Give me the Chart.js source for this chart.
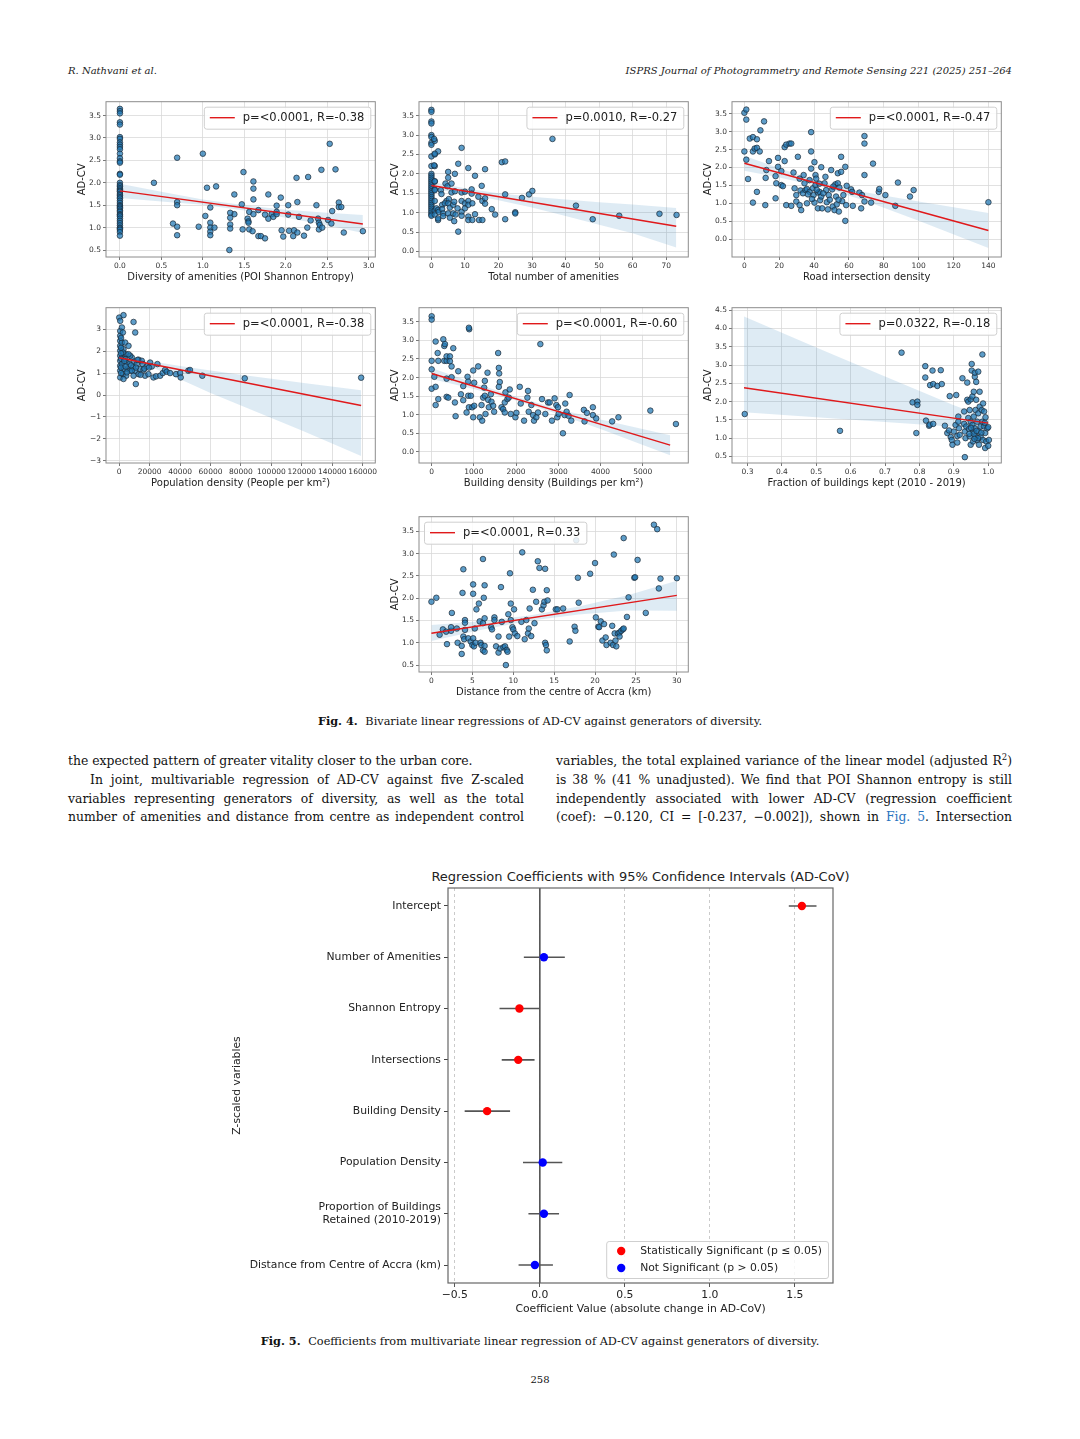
<!DOCTYPE html>
<html>
<head>
<meta charset="utf-8">
<script src="https://cdn.jsdelivr.net/npm/chart.js@4.4.1/dist/chart.umd.min.js"></script>
<style>
  html, body { margin: 0; padding: 0; background: #fff; }
  body { width: 1080px; height: 1439px; position: relative; overflow: hidden; }
  canvas { position: absolute; }
  .hdr { position: absolute; font: italic 10px 'DejaVu Serif', serif; color: #222; line-height: 12px; white-space: nowrap; }
  .cap { position: absolute; left: 0; width: 1080px; text-align: center; font: 11.3px 'DejaVu Serif', serif; color: #111; line-height: 16px; }
  .cap b { margin-right: 4px; }
  .col { position: absolute; width: 456px; font: 12.4px 'DejaVu Serif', serif; color: #111; }
  .col div { height: 18.8px; line-height: 18.8px; text-align: justify; text-align-last: justify; }
  .col div.last { text-align-last: left; }
  .col .ind { text-indent: 22px; }
  .lnk { color: #2a74c0; }
  sup { font-size: 8.5px; line-height: 0; }
  .ctitle { position: absolute; left: 290px; width: 701px; text-align: center; font: 13px 'DejaVu Sans', sans-serif; color: #222; line-height: 16px; white-space: nowrap; }
</style>
</head>
<body>

<div class="hdr" style="left:68px; top:65px;">R. Nathvani et al.</div>
<div class="hdr" style="right:68px; top:65px;">ISPRS Journal of Photogrammetry and Remote Sensing 221 (2025) 251–264</div>

<canvas id="p1"></canvas>
<canvas id="p2"></canvas>
<canvas id="p3"></canvas>
<canvas id="p4"></canvas>
<canvas id="p5"></canvas>
<canvas id="p6"></canvas>
<canvas id="p7"></canvas>

<div class="cap" style="top:713px;"><b>Fig. 4.</b> Bivariate linear regressions of AD-CV against generators of diversity.</div>

<div class="col" style="left:68px; top:752px;">
  <div class="last">the expected pattern of greater vitality closer to the urban core.</div>
  <div class="ind">In joint, multivariable regression of AD-CV against five Z-scaled</div>
  <div>variables representing generators of diversity, as well as the total</div>
  <div>number of amenities and distance from centre as independent control</div>
</div>
<div class="col" style="left:556px; top:752px;">
  <div>variables, the total explained variance of the linear model (adjusted R<sup>2</sup>)</div>
  <div>is 38 % (41 % unadjusted). We find that POI Shannon entropy is still</div>
  <div>independently associated with lower AD-CV (regression coefficient</div>
  <div>(coef): −0.120, CI = [-0.237, −0.002]), shown in <span class="lnk">Fig. 5</span>. Intersection</div>
</div>

<div class="ctitle" style="top:869px;">Regression Coefficients with 95% Confidence Intervals (AD-CoV)</div>
<canvas id="coef"></canvas>

<div class="cap" style="top:1333px;"><b>Fig. 5.</b> Coefficients from multivariate linear regression of AD-CV against generators of diversity.</div>
<div class="cap" style="top:1372px; font-size:10px;">258</div>

<script>
// ---------- Fig. 4 data ----------

// panel 1: POI Shannon entropy
const entropyPts = [
  [0,3.65],[0,3.6],[0,3.55],[0,3.35],[0,3.3],[0,3.02],[0,2.98],[0,2.9],[0,2.85],[0,2.8],[0,2.75],[0,2.65],
  [0,2.55],[0,2.48],[0,2.45],[0,2.2],[0,2.18],[0,2.0],[0,1.95],[0,1.92],[0,1.88],[0,1.85],[0,1.82],[0,1.8],
  [0,1.75],[0,1.72],[0,1.68],[0,1.65],[0,1.6],[0,1.55],[0,1.5],[0,1.48],[0,1.45],[0,1.42],[0,1.38],[0,1.35],
  [0,1.3],[0,1.28],[0,1.25],[0,1.2],[0,1.15],[0,1.1],[0,1.05],[0,1.0],[0,0.98],[0,0.95],[0,0.9],[0,0.82],
  [0.41,2.0],[0.69,2.56],[0.69,1.57],[0.69,1.5],[0.64,1.09],[0.69,1.02],[0.69,0.83],[1.0,2.65],[1.05,1.89],
  [1.16,1.92],[1.03,1.26],[1.09,1.45],[1.09,1.11],[1.09,1.0],[1.09,0.91],[1.09,0.83],[1.14,1.0],[0.95,1.02],
  [1.38,1.74],[1.38,1.3],[1.33,1.33],[1.33,1.22],[1.33,1.07],[1.33,0.98],[1.32,0.5],[1.49,2.24],[1.47,1.52],
  [1.48,0.96],[1.54,1.2],[1.55,1.14],[1.55,1.11],[1.56,1.35],[1.56,0.96],[1.61,2.03],[1.61,1.87],[1.61,1.63],
  [1.61,1.3],[1.6,0.92],[1.67,1.39],[1.67,0.81],[1.7,0.81],[1.75,0.76],[1.79,1.74],[1.79,1.2],[1.75,1.29],
  [1.83,1.3],[1.85,1.24],[1.89,1.49],[1.89,1.35],[1.89,1.3],[1.94,1.67],[1.95,0.94],[1.97,0.8],[2.03,1.5],
  [2.03,1.29],[2.04,0.93],[2.1,0.94],[2.09,0.81],[2.13,2.11],[2.14,1.57],[2.14,0.89],[2.16,1.24],[2.27,2.13],
  [2.3,1.16],[2.22,0.82],[2.26,1.0],[2.37,1.5],[2.39,1.2],[2.4,1.11],[2.4,0.96],[2.41,1.06],[2.44,1.0],
  [2.43,2.29],[2.53,2.87],[2.6,2.3],[2.51,1.17],[2.56,1.37],[2.55,1.09],[2.64,1.56],[2.64,1.46],[2.67,1.46],
  [2.7,0.89],[2.93,0.92]
];
const entropyFit = [[0,1.82],[2.93,1.08]];
const entropyBandX = [0, 0.5, 1.0, 1.5, 2.0, 2.5, 2.93];
const entropyBandHi = [1.98, 1.80, 1.63, 1.50, 1.40, 1.33, 1.28];
const entropyBandLo = [1.66, 1.58, 1.51, 1.38, 1.22, 1.05, 0.88];
const entropyTicksX = [0, 0.5, 1.0, 1.5, 2.0, 2.5, 3.0];
const entropyTicksY = [0.5, 1.0, 1.5, 2.0, 2.5, 3.0, 3.5];

// panel 2: total number of amenities
const amenityPts = [
  [0,3.65],[0,3.6],[0,3.35],[0,3.3],[0,3.0],[0,2.95],[0,2.8],[0,2.75],[0,2.45],[0,2.2],[0,2.0],[0,1.95],
  [0,1.9],[0,1.85],[0,1.8],[0,1.75],[0,1.7],[0,1.65],[0,1.6],[0,1.55],[0,1.5],[0,1.45],[0,1.4],[0,1.35],
  [0,1.3],[0,1.25],[0,1.2],[0,1.15],[0,1.1],[0,1.05],[0,1.0],[0,0.95],[0,0.92],
  [1,2.85],[1,2.5],[1,2.2],[1,1.8],[1,1.6],[1,1.3],[1,1.05],[1,0.95],[0.8,2.9],
  [2.0,2.58],[1.0,2.52],[0.8,2.22],[1.0,1.81],[1.0,1.58],[2.8,1.58],[1.5,1.11],[2.0,1.07],[2.2,1.02],
  [2.0,0.81],[2.0,0.85],[3.0,1.48],[3.2,1.2],[3.2,1.09],[3.5,0.98],[3.5,0.91],[4.2,1.75],[4.8,1.68],
  [4.5,1.3],[4.0,1.24],[5.0,2.05],[5.0,1.9],[5.2,1.35],[5.0,1.24],[5.5,1.13],[5.0,0.98],[5.5,0.87],
  [6.0,1.75],[6.0,1.52],[6.5,1.2],[6.5,0.98],[7.0,2.0],[7.0,1.55],[6.8,1.28],[6.8,0.78],[7.2,0.95],
  [8.0,2.26],[8.0,0.51],[7.8,1.11],[9.0,2.67],[9.0,1.52],[9.0,1.3],[9.0,1.02],[9.0,0.92],[10.0,1.54],
  [10.0,1.24],[10.0,1.11],[11.0,2.15],[11.0,1.3],[11.0,1.2],[11.0,0.9],[11.0,0.81],[12.0,1.6],[12.0,1.49],
  [12.2,1.24],[12.2,0.81],[13.0,1.95],[13.0,0.96],[14.0,1.41],[14.2,0.81],[15.0,1.69],[15.2,1.3],[15.2,0.81],
  [16.0,2.12],[16.0,1.37],[16.0,1.23],[18.0,1.09],[19.0,0.95],[21.0,2.3],[22.0,2.32],[22.0,1.47],[22.0,0.83],
  [25.0,1.01],[25.0,0.98],[27.0,1.38],[29.1,1.47],[30.1,1.56],[36.1,2.9],[43.1,1.18],[48.1,0.83],[56.0,0.92],
  [68.0,0.97],[73.1,0.94]
];
const amenityFit = [[0,1.70],[73,0.65]];
const amenityBandX = [0, 10, 20, 30, 40, 50, 60, 73];
const amenityBandHi = [1.79, 1.63, 1.50, 1.41, 1.34, 1.27, 1.21, 1.12];
const amenityBandLo = [1.61, 1.49, 1.32, 1.13, 0.91, 0.69, 0.47, 0.10];
const amenityTicksX = [0, 10, 20, 30, 40, 50, 60, 70];
const amenityTicksY = [0.0, 0.5, 1.0, 1.5, 2.0, 2.5, 3.0, 3.5];

// panel 3: road intersection density
const intersectPts = [
  [0,3.53],[1.1,3.62],[1.1,3.34],[0,2.45],[1.1,2.22],[2.1,1.68],[3.1,2.81],[4.9,2.85],[4.9,2.45],[5.9,2.53],
  [7.2,2.55],[7.2,2.79],[8.8,2.45],[9.2,3.04],[11.3,3.29],[4.9,1.02],[7.2,1.32],[12,0.95],[14.1,2.18],
  [12.6,1.93],[12.2,1.71],[17.9,1.76],[18.3,1.56],[17.9,1.14],[19.3,2.27],[19.3,2.02],[21.2,1.51],[22.1,1.48],
  [21.2,1.9],[23.1,2.57],[24,2.64],[25.9,2.67],[26.9,2.67],[23.1,2.18],[24,0.95],[26.9,0.93],[28.2,1.86],
  [28.8,1.42],[29.8,1.23],[29.8,1.05],[30.7,2.3],[31.7,1.69],[31.7,0.95],[32.6,0.81],[32.2,1.36],[33.6,1.28],
  [34,1.79],[34.5,1.56],[35.1,1.37],[35.9,1.4],[35.9,1.0],[37.4,1.65],[37.4,1.32],[38.3,2.99],[38.3,2.45],
  [38.3,1.97],[39.3,1.42],[39.7,1.23],[40.2,2.15],[40.8,1.79],[40.8,1.51],[40.2,1.02],[41.2,1.69],[42.2,1.3],
  [42.2,0.86],[43.1,1.32],[43.5,1.09],[44.1,2.01],[44.1,1.19],[44.6,0.86],[46,1.56],[46.5,1.74],[46.9,1.37],
  [47.3,1.03],[47.9,0.83],[48.4,1.23],[49.8,1.93],[50.4,1.39],[50.7,0.91],[51.7,0.81],[52.2,1.53],[52.6,1.19],
  [53,0.97],[53.6,1.84],[53.6,1.56],[54.2,0.77],[54.5,1.44],[55.5,2.3],[55.5,1.88],[56.1,1.06],[56.8,1.23],
  [57.9,2.02],[57.9,0.51],[58.4,0.95],[58.7,1.49],[61.2,1.39],[61.8,1.32],[62.2,0.93],[66,1.3],[67,0.86],
  [67.5,1.23],[68.9,2.88],[68.9,2.67],[68.9,1.79],[68.9,1.05],[72.7,1.02],[73.8,2.11],[77.1,1.32],[77.4,1.4],
  [80.9,1.23],[86.6,0.93],[88.1,1.58],[95,1.19],[97.1,1.37],[140,1.03],
  [36.5,1.25],[38.8,1.12],[45.2,1.28],[49,1.1],[51,1.47],[54,1.1],[41.5,1.38],[43,1.55]
];
const intersectFit = [[0,2.12],[140,0.24]];
const intersectBandX = [0, 20, 45, 70, 100, 140];
const intersectBandHi = [2.33, 1.98, 1.59, 1.30, 1.05, 0.73];
const intersectBandLo = [1.91, 1.72, 1.45, 1.06, 0.51, -0.25];
const intersectTicksX = [0, 20, 40, 60, 80, 100, 120, 140];
const intersectTicksY = [0.0, 0.5, 1.0, 1.5, 2.0, 2.5, 3.0, 3.5];

// panel 4: population density
const popPts = [
  [0,3.53],[2800,3.64],[650,3.38],[650,2.92],[650,2.7],[650,2.47],[650,2.24],[650,2.02],[650,1.79],[650,1.56],
  [650,1.33],[650,1.11],[650,0.8],[1750,3.08],[2400,2.85],[1750,2.39],[2800,2.09],[2800,1.71],[1750,1.41],
  [3300,1.18],[2400,0.95],[3900,2.39],[4600,1.86],[5000,1.48],[5500,1.18],[4600,0.88],[6100,2.24],[6800,1.41],
  [7200,1.11],[9400,3.33],[10500,2.85],[10900,0.5],[8300,1.71],[9000,1.26],[9800,1.52],[10500,1.11],
  [11600,1.41],[12700,0.95],[13800,1.18],[12700,1.61],[14800,1.56],[15500,1.41],[15900,1.15],[17000,0.88],
  [19200,0.95],[20300,1.48],[21400,1.3],[22500,0.8],[24200,0.85],[25100,1.41],[26900,0.88],[28600,1.0],
  [30100,1.14],[31200,1.06],[33400,1.0],[37300,0.95],[40000,1.0],[40400,0.8],[45400,1.11],[46500,1.14],
  [54600,0.88],[82500,0.76],[159000,0.79],
  [2400,1.94],[3900,1.64],[7200,1.79],[6100,1.86],[8300,1.11],[5000,1.03],[9400,0.88],[2800,0.73],
  [1200,2.6],[1200,2.15],[1200,1.9],[1200,1.65],[1200,1.25],[1200,1.0],[3300,1.55],[4200,1.3],[7800,1.35],
  [11000,1.25],[14000,0.92],[18000,1.3],[16500,1.2],[12000,1.6],[19500,1.25]
];
const popFit = [[0,1.70],[159000,-0.48]];
const popBandX = [0, 20000, 40000, 60000, 80000, 100000, 120000, 159000];
const popBandHi = [1.82, 1.55, 1.32, 1.12, 0.92, 0.74, 0.56, 0.22];
const popBandLo = [1.58, 1.30, 0.72, 0.09, -0.48, -1.05, -1.62, -2.78];
const popTicksX = [0, 20000, 40000, 60000, 80000, 100000, 120000, 140000, 160000];
const popTicksY = [-3, -2, -1, 0, 1, 2, 3];

// panel 5: building density
const buildPts = [
  [0,3.65],[0,3.56],[0,2.45],[0,2.22],[0,1.7],[63,2.02],[94,1.75],[94,1.26],[94,2.97],[157,2.45],[142,2.66],
  [157,1.42],[299,2.45],[276,3.03],[299,2.85],[315,2.9],[354,2.45],[354,1.97],[354,1.48],[394,1.46],[354,2.57],
  [433,2.57],[433,2.44],[472,2.01],[512,2.79],[472,2.3],[551,1.33],[567,0.96],[630,2.17],[693,1.55],[748,1.77],
  [748,1.39],[827,1.06],[850,2.02],[866,1.89],[866,1.51],[882,1.2],[890,3.3],[882,3.34],[929,1.51],[961,1.2],
  [984,2.19],[984,0.93],[1008,1.86],[1008,1.24],[1102,2.3],[1142,0.93],[1181,1.26],[1197,0.84],[1220,1.46],
  [1244,1.73],[1260,1.91],[1260,1.51],[1276,1.02],[1323,2.13],[1339,1.4],[1354,1.2],[1402,1.55],[1417,1.35],
  [1457,1.24],[1480,1.08],[1575,2.66],[1591,2.26],[1599,2.11],[1614,1.88],[1591,1.75],[1654,1.2],[1693,1.15],
  [1732,1.33],[1732,1.06],[1748,1.6],[1795,1.42],[1850,1.68],[1874,1.02],[1827,1.46],[1984,0.93],[2008,1.05],
  [2087,1.75],[2110,1.3],[2189,0.84],[2268,1.46],[2283,1.64],[2299,1.08],[2362,1.26],[2402,0.99],[2425,0.84],
  [2480,0.93],[2520,1.06],[2575,2.9],[2614,1.42],[2693,1.02],[2756,1.33],[2795,1.33],[2850,0.84],[2913,1.44],
  [2953,1.26],[2992,1.2],[2976,0.93],[3008,1.02],[3110,0.5],[3150,0.99],[3165,1.3],[3197,1.08],[3268,1.53],
  [3307,0.84],[3244,0.97],[3606,1.13],[3622,0.82],[3677,1.05],[3819,1.2],[3819,0.99],[3898,0.9],[4276,0.82],
  [4425,0.93],[5181,1.11],[5787,0.75]
];
const buildFit = [[0,2.11],[5650,0.18]];
const buildBandX = [0, 1000, 2000, 3000, 4000, 5650];
const buildBandHi = [2.26, 1.85, 1.48, 1.155, 0.874, 0.45];
const buildBandLo = [1.96, 1.69, 1.38, 1.015, 0.614, -0.09];
const buildTicksX = [0, 1000, 2000, 3000, 4000, 5000];
const buildTicksY = [0.0, 0.5, 1.0, 1.5, 2.0, 2.5, 3.0, 3.5];

// panel 6: fraction of buildings kept
const keptPts = [
  [0.292,1.66],[0.569,1.2],[0.748,3.34],[0.78,1.98],[0.794,2.0],[0.794,1.91],[0.791,1.14],[0.817,2.97],
  [0.817,2.66],[0.819,1.48],[0.828,1.34],[0.831,2.45],[0.83,1.37],[0.84,1.39],[0.838,2.85],[0.84,2.48],
  [0.852,2.43],[0.865,2.48],[0.862,2.86],[0.874,1.34],[0.881,1.14],[0.886,1.21],[0.888,2.15],[0.891,1.03],
  [0.894,0.95],[0.896,0.82],[0.9,1.18],[0.905,1.36],[0.907,2.18],[0.91,0.88],[0.91,1.06],[0.913,1.59],
  [0.913,1.45],[0.915,1.27],[0.917,1.09],[0.925,2.64],[0.93,1.73],[0.93,1.39],[0.932,1.18],[0.932,0.48],
  [0.934,1.0],[0.936,1.32],[0.939,2.52],[0.939,2.05],[0.942,2.0],[0.942,1.55],[0.944,1.25],[0.946,1.77],
  [0.946,1.05],[0.949,2.06],[0.949,1.45],[0.949,0.82],[0.952,2.85],[0.952,3.03],[0.954,2.14],[0.954,1.36],
  [0.956,1.18],[0.956,0.91],[0.958,2.27],[0.958,1.59],[0.961,2.68],[0.961,2.79],[0.961,1.27],[0.963,1.77],
  [0.963,1.05],[0.965,2.54],[0.965,2.05],[0.968,1.45],[0.968,0.95],[0.971,2.82],[0.971,1.68],[0.973,1.18],
  [0.973,0.82],[0.975,2.27],[0.975,1.86],[0.978,1.32],[0.978,1.03],[0.981,1.77],[0.983,3.29],[0.983,1.45],
  [0.985,1.95],[0.985,0.95],[0.988,1.73],[0.988,1.32],[0.991,1.14],[0.991,0.73],[0.992,1.57],[0.994,0.91],
  [0.997,1.27],[1.0,1.3],[1.0,0.79],[1.002,0.95],
  [0.958,1.12],[0.966,1.2],[0.97,1.0],[0.98,1.15],[0.95,1.28],[0.945,1.12],[0.99,1.42],[0.96,0.98]
];
const keptFit = [[0.29,2.38],[1.0,1.41]];
const keptBandX = [0.29, 0.5, 0.7, 0.9, 1.0];
const keptBandHi = [4.33, 3.48, 2.69, 1.90, 1.55];
const keptBandLo = [1.71, 1.57, 1.44, 1.31, 1.27];
const keptTicksX = [0.3, 0.4, 0.5, 0.6, 0.7, 0.8, 0.9, 1.0];
const keptTicksY = [0.5, 1.0, 1.5, 2.0, 2.5, 3.0, 3.5, 4.0, 4.5];

// panel 7: distance from the centre of Accra
const distPts = [
  [0,1.92],[0.6,2.01],[1.0,1.18],[1.4,1.3],[1.8,1.25],[1.9,0.97],[2.4,1.27],[2.5,1.67],[2.4,1.35],[3.1,1.32],
  [3.2,1.0],[3.7,0.75],[3.7,0.93],[3.8,2.12],[3.9,2.65],[3.9,1.14],[4.0,1.08],[4.1,1.51],[4.1,1.45],[4.1,1.29],
  [4.5,1.1],[4.8,1.03],[5.0,0.95],[5.1,2.31],[5.1,2.1],[5.1,1.1],[5.2,0.92],[5.3,1.32],[5.4,1.0],[5.5,1.75],
  [5.8,1.88],[5.9,1.48],[6.0,1.0],[6.1,0.95],[6.3,2.88],[6.3,1.44],[6.3,0.83],[6.5,0.8],[6.4,2.01],[6.5,2.29],
  [6.5,1.55],[6.5,0.93],[7.3,1.35],[7.4,1.3],[7.7,1.57],[7.7,1.51],[7.9,0.92],[8.2,0.78],[8.2,1.14],[8.4,0.87],
  [8.5,2.25],[8.6,1.47],[8.8,0.9],[9.0,0.92],[9.1,0.5],[9.2,0.84],[9.3,0.8],[9.4,1.64],[9.5,1.14],[9.6,2.56],
  [9.7,1.88],[9.7,1.51],[9.9,1.35],[10.0,1.3],[10.1,1.75],[10.2,1.21],[10.5,1.15],[11.0,1.47],[11.1,3.03],
  [11.4,1.08],[11.6,1.51],[11.8,1.21],[11.9,1.32],[12.0,1.77],[12.2,1.15],[12.4,2.19],[12.6,1.44],[12.8,1.92],
  [13.0,2.83],[13.2,2.68],[13.5,1.75],[13.7,1.84],[13.8,1.92],[13.9,1.0],[13.9,2.66],[14.0,0.95],[14.1,0.83],
  [14.1,2.18],[14.2,1.95],[15.2,1.75],[15.4,1.75],[16.1,1.77],[16.9,1.03],[17.5,1.36],[17.6,1.27],[17.9,2.46],
  [18.0,1.9],[17.7,3.3],[19.4,2.55],[20.0,2.79],[20.1,1.57],[20.4,1.36],[20.5,1.35],[20.7,1.48],[20.9,1.05],
  [21.1,1.42],[21.3,1.12],[21.4,0.95],[21.9,1.0],[22.1,1.38],[22.2,0.95],[22.3,2.98],[22.4,1.21],[22.5,1.05],
  [22.6,0.92],[22.8,1.21],[23.0,1.23],[23.0,1.14],[23.2,1.27],[23.4,1.3],[23.5,3.35],[23.5,1.32],[23.9,1.58],
  [24.1,2.02],[24.8,2.46],[24.9,2.47],[25.2,2.86],[26.2,1.67],[27.2,3.65],[27.6,3.55],[27.8,2.22],[28.0,2.44],
  [30.0,2.45]
];
const distFit = [[0,1.215],[30,2.065]];
const distBandX = [0, 6, 12, 18, 24, 30];
const distBandHi = [1.40, 1.485, 1.615, 1.815, 2.065, 2.39];
const distBandLo = [1.04, 1.285, 1.495, 1.635, 1.725, 1.72];
const distTicksX = [0, 5, 10, 15, 20, 25, 30];
const distTicksY = [0.5, 1.0, 1.5, 2.0, 2.5, 3.0, 3.5];

const legendTexts = [
  'p=<0.0001, R=-0.38', 'p=0.0010, R=-0.27', 'p=<0.0001, R=-0.47',
  'p=<0.0001, R=-0.38', 'p=<0.0001, R=-0.60', 'p=0.0322, R=-0.18', 'p=<0.0001, R=0.33'
];

// ---------- Fig. 5 data ----------
const coefLabels = ['Intercept', 'Number of Amenities', 'Shannon Entropy', 'Intersections', 'Building Density',
  'Population Density', ['Proportion of Buildings', 'Retained (2010-2019)'], 'Distance from Centre of Accra (km)'];
const coefValues = [1.541, 0.024, -0.120, -0.127, -0.310, 0.017, 0.024, -0.029];
const coefLow = [1.464, -0.094, -0.237, -0.224, -0.442, -0.099, -0.067, -0.125];
const coefHigh = [1.627, 0.147, -0.002, -0.031, -0.175, 0.132, 0.113, 0.077];
const coefSignificant = [true, false, true, true, true, false, false, false];
const coefTicksX = [-0.5, 0.0, 0.5, 1.0, 1.5];
const coefRangeX = [-0.54, 1.724];
const coefRangeY = [-0.35, 7.35];
const zeroRef = 0;

// ---------- helpers ----------
const SANS = "'DejaVu Sans', sans-serif";

function fmt(v, d) {
  return v.toFixed(d).replace('-', '\u2212');
}

// full box round the plot area (matplotlib spines)
const framePlugin = {
  id: 'frame',
  afterDraw(chart, args, o) {
    const { ctx, chartArea: a } = chart;
    ctx.save();
    ctx.strokeStyle = o.color || '#888';
    ctx.lineWidth = o.width || 1;
    ctx.strokeRect(a.left, a.top, a.right - a.left, a.bottom - a.top);
    ctx.restore();
  }
};

// legend drawn inside the plot area, in a white box
const boxLegendPlugin = {
  id: 'boxLegend',
  afterDraw(chart, args, o) {
    if (!o.items) return;
    const { ctx, chartArea: a } = chart;
    ctx.save();
    ctx.font = o.font;
    const textW = Math.max(...o.items.map(it => ctx.measureText(it.text).width));
    const w = o.pad + o.symW + o.gap + textW + o.pad;
    const h = o.items.length * o.lineH + 2 * o.padY;
    const x = o.corner.includes('left') ? a.left + o.margin : a.right - o.margin - w;
    const y = o.corner.includes('bottom') ? a.bottom - o.margin - h : a.top + o.margin;
    ctx.fillStyle = 'rgba(255,255,255,0.85)';
    ctx.strokeStyle = '#cfcfcf';
    ctx.lineWidth = 1;
    ctx.beginPath();
    ctx.roundRect(x + 0.5, y + 0.5, w, h, 2.5);
    ctx.fill();
    ctx.stroke();
    o.items.forEach((it, i) => {
      const cy = y + o.padY + o.lineH * i + o.lineH / 2;
      if (it.line) {
        ctx.strokeStyle = it.line;
        ctx.lineWidth = 1.4;
        ctx.beginPath();
        ctx.moveTo(x + o.pad, cy);
        ctx.lineTo(x + o.pad + o.symW, cy);
        ctx.stroke();
      } else {
        ctx.fillStyle = it.dot;
        ctx.beginPath();
        ctx.arc(x + o.pad + o.symW / 2, cy, 4.2, 0, Math.PI * 2);
        ctx.fill();
      }
      ctx.fillStyle = '#222';
      ctx.textBaseline = 'middle';
      ctx.fillText(it.text, x + o.pad + o.symW + o.gap, cy + 0.5);
    });
    ctx.restore();
  }
};

Chart.register(framePlugin, boxLegendPlugin);

function sizeCanvas(cv, left, top, w, h) {
  cv.width = w; cv.height = h;
  cv.style.left = left + 'px'; cv.style.top = top + 'px';
  cv.style.width = w + 'px'; cv.style.height = h + 'px';
}

function panel(id, box, p) {
  const cv = document.getElementById(id);
  sizeCanvas(cv, box.x - 30, box.y - 4, box.w + 34, box.h + 30);
  const toXY = arr => arr.map(([x, y]) => ({ x, y }));
  new Chart(cv, {
    type: 'scatter',
    data: {
      datasets: [
        { type: 'line', data: p.bandX.map((x, i) => ({ x, y: p.bandHi[i] })), fill: '+1',
          backgroundColor: 'rgba(31,119,180,0.15)', borderColor: 'transparent', borderWidth: 0, pointRadius: 0, order: 3 },
        { type: 'line', data: p.bandX.map((x, i) => ({ x, y: p.bandLo[i] })), fill: false,
          borderColor: 'transparent', borderWidth: 0, pointRadius: 0, order: 3 },
        { data: toXY(p.pts), backgroundColor: 'rgba(31,119,180,0.72)', borderColor: '#1c2833',
          borderWidth: 0.7, pointRadius: 2.8, order: 2 },
        { type: 'line', data: toXY(p.fit), borderColor: '#e0191b', borderWidth: 1.4, pointRadius: 0, order: 1 }
      ]
    },
    options: {
      responsive: false,
      animation: false,
      layout: { padding: { top: 4, right: 4, left: 0, bottom: 0 } },
      scales: {
        x: {
          type: 'linear', min: p.xr[0], max: p.xr[1],
          afterBuildTicks: s => { s.ticks = p.xt.map(v => ({ value: v })); },
          afterFit: s => { s.height = 26; s.paddingLeft = 0; s.paddingRight = 0; },
          ticks: { callback: v => fmt(v, p.xd), font: { family: SANS, size: 7.5 }, color: '#333',
                   padding: 1.5, maxRotation: 0, minRotation: 0, autoSkip: false },
          grid: { color: '#d9d9d9', lineWidth: 0.8, tickLength: 3, tickColor: '#555' },
          border: { display: false },
          title: { display: true, text: p.xTitle, font: { family: SANS, size: 10 }, color: '#222', padding: 0 }
        },
        y: {
          type: 'linear', min: p.yr[0], max: p.yr[1],
          afterBuildTicks: s => { s.ticks = p.yt.map(v => ({ value: v })); },
          afterFit: s => { s.width = 30; s.paddingTop = 0; s.paddingBottom = 0; },
          ticks: { callback: v => fmt(v, p.yd), font: { family: SANS, size: 7.5 }, color: '#333',
                   padding: 2, autoSkip: false },
          grid: { color: '#d9d9d9', lineWidth: 0.8, tickLength: 3, tickColor: '#555' },
          border: { display: false },
          title: { display: true, text: 'AD-CV', font: { family: SANS, size: 10 }, color: '#222', padding: 0 }
        }
      },
      plugins: {
        legend: { display: false },
        tooltip: { enabled: false },
        frame: { color: '#8c8c8c', width: 1 },
        boxLegend: {
          items: [{ text: p.legend, line: '#e0191b' }], corner: p.corner, font: '11.5px ' + SANS,
          pad: 6, symW: 25, gap: 8, lineH: 22, padY: 0, margin: 5
        }
      }
    }
  });
}

const colX = [106, 419, 732];
const rowY = [101, 307, 516];
const PW = 270, PH = 156;

panel('p1', { x: colX[0], y: rowY[0], w: PW, h: PH }, {
  pts: entropyPts, fit: entropyFit, bandX: entropyBandX, bandHi: entropyBandHi, bandLo: entropyBandLo,
  xr: [-0.168, 3.08], yr: [0.344, 3.81], xt: entropyTicksX, yt: entropyTicksY, xd: 1, yd: 1,
  xTitle: 'Diversity of amenities (POI Shannon Entropy)', legend: legendTexts[0], corner: 'top-right'
});
panel('p2', { x: colX[1], y: rowY[0], w: PW, h: PH }, {
  pts: amenityPts, fit: amenityFit, bandX: amenityBandX, bandHi: amenityBandHi, bandLo: amenityBandLo,
  xr: [-3.7, 76.6], yr: [-0.144, 3.86], xt: amenityTicksX, yt: amenityTicksY, xd: 0, yd: 1,
  xTitle: 'Total number of amenities', legend: legendTexts[1], corner: 'top-right'
});
panel('p3', { x: colX[2], y: rowY[0], w: PW, h: PH }, {
  pts: intersectPts, fit: intersectFit, bandX: intersectBandX, bandHi: intersectBandHi, bandLo: intersectBandLo,
  xr: [-7.1, 147.4], yr: [-0.5, 3.84], xt: intersectTicksX, yt: intersectTicksY, xd: 0, yd: 1,
  xTitle: 'Road intersection density', legend: legendTexts[2], corner: 'top-right'
});
panel('p4', { x: colX[0], y: rowY[1], w: PW, h: PH }, {
  pts: popPts, fit: popFit, bandX: popBandX, bandHi: popBandHi, bandLo: popBandLo,
  xr: [-8700, 168300], yr: [-3.1, 3.98], xt: popTicksX, yt: popTicksY, xd: 0, yd: 0,
  xTitle: 'Population density (People per km²)', legend: legendTexts[3], corner: 'top-right'
});
panel('p5', { x: colX[1], y: rowY[1], w: PW, h: PH }, {
  pts: buildPts, fit: buildFit, bandX: buildBandX, bandHi: buildBandHi, bandLo: buildBandLo,
  xr: [-300, 6080], yr: [-0.30, 3.88], xt: buildTicksX, yt: buildTicksY, xd: 0, yd: 1,
  xTitle: 'Building density (Buildings per km²)', legend: legendTexts[4], corner: 'top-right'
});
panel('p6', { x: colX[2], y: rowY[1], w: PW, h: PH }, {
  pts: keptPts, fit: keptFit, bandX: keptBandX, bandHi: keptBandHi, bandLo: keptBandLo,
  xr: [0.255, 1.038], yr: [0.32, 4.57], xt: keptTicksX, yt: keptTicksY, xd: 1, yd: 1,
  xTitle: 'Fraction of buildings kept (2010 - 2019)', legend: legendTexts[5], corner: 'top-right'
});
panel('p7', { x: colX[1], y: rowY[2], w: PW, h: PH }, {
  pts: distPts, fit: distFit, bandX: distBandX, bandHi: distBandHi, bandLo: distBandLo,
  xr: [-1.52, 31.4], yr: [0.344, 3.83], xt: distTicksX, yt: distTicksY, xd: 0, yd: 1,
  xTitle: 'Distance from the centre of Accra (km)', legend: legendTexts[6], corner: 'top-left'
});

// ---------- Fig. 5: coefficient plot ----------
(function () {
  const cv = document.getElementById('coef');
  sizeCanvas(cv, 225, 862, 615, 454);
  const sigPts = [], nsPts = [];
  coefValues.forEach((v, i) => (coefSignificant[i] ? sigPts : nsPts).push({ x: v, y: i }));
  const ciSegments = coefLow.flatMap((lo, i) => [{ x: lo, y: i }, { x: coefHigh[i], y: i }, { x: null, y: null }]);

  new Chart(cv, {
    type: 'scatter',
    data: {
      datasets: [
        { type: 'line', data: [{ x: zeroRef, y: coefRangeY[0] }, { x: zeroRef, y: coefRangeY[1] }],
          borderColor: '#555', borderWidth: 1.6, pointRadius: 0, order: 4 },
        { type: 'line', data: ciSegments, borderColor: '#555', borderWidth: 1.6, pointRadius: 0, spanGaps: false, order: 3 },
        { data: sigPts, backgroundColor: '#ff0000', borderWidth: 0, pointRadius: 4.2, order: 1 },
        { data: nsPts, backgroundColor: '#0000ff', borderWidth: 0, pointRadius: 4.2, order: 1 }
      ]
    },
    options: {
      responsive: false,
      animation: false,
      layout: { padding: { top: 26, right: 7, left: 0, bottom: 0 } },
      scales: {
        x: {
          type: 'linear', min: coefRangeX[0], max: coefRangeX[1],
          afterBuildTicks: s => { s.ticks = coefTicksX.map(v => ({ value: v })); },
          afterFit: s => { s.height = 33; s.paddingLeft = 0; s.paddingRight = 0; },
          ticks: { callback: v => fmt(v, 1), font: { family: SANS, size: 10.8 }, color: '#222',
                   padding: 2, maxRotation: 0, autoSkip: false },
          grid: { color: '#c4c4c4', lineWidth: 0.9, tickLength: 4, tickColor: '#444' },
          border: { display: false, dash: [3, 3] },
          title: { display: true, text: 'Coefficient Value (absolute change in AD-CoV)',
                   font: { family: SANS, size: 10.8 }, color: '#222', padding: 0 }
        },
        y: {
          type: 'linear', reverse: true, min: coefRangeY[0], max: coefRangeY[1],
          afterBuildTicks: s => { s.ticks = coefLabels.map((l, i) => ({ value: i })); },
          afterFit: s => { s.width = 223; s.paddingTop = 0; s.paddingBottom = 0; },
          ticks: { callback: v => coefLabels[v], font: { family: SANS, size: 10.8, lineHeight: 1.2 },
                   color: '#222', padding: 3, autoSkip: false },
          grid: { drawOnChartArea: false, drawTicks: true, tickLength: 4, tickColor: '#444' },
          border: { display: false },
          title: { display: true, text: 'Z-scaled variables', font: { family: SANS, size: 10.8 },
                   color: '#222', padding: { top: 5.5, bottom: 0 } }
        }
      },
      plugins: {
        legend: { display: false },
        tooltip: { enabled: false },
        frame: { color: '#666', width: 1.2 },
        boxLegend: {
          items: [
            { text: 'Statistically Significant (p ≤ 0.05)', dot: '#ff0000' },
            { text: 'Not Significant (p > 0.05)', dot: '#0000ff' }
          ],
          corner: 'bottom-right', font: '10.8px ' + SANS,
          pad: 6, symW: 18, gap: 10, lineH: 17, padY: 1.5, margin: 5
        }
      }
    }
  });
})();
</script>
</body>
</html>
